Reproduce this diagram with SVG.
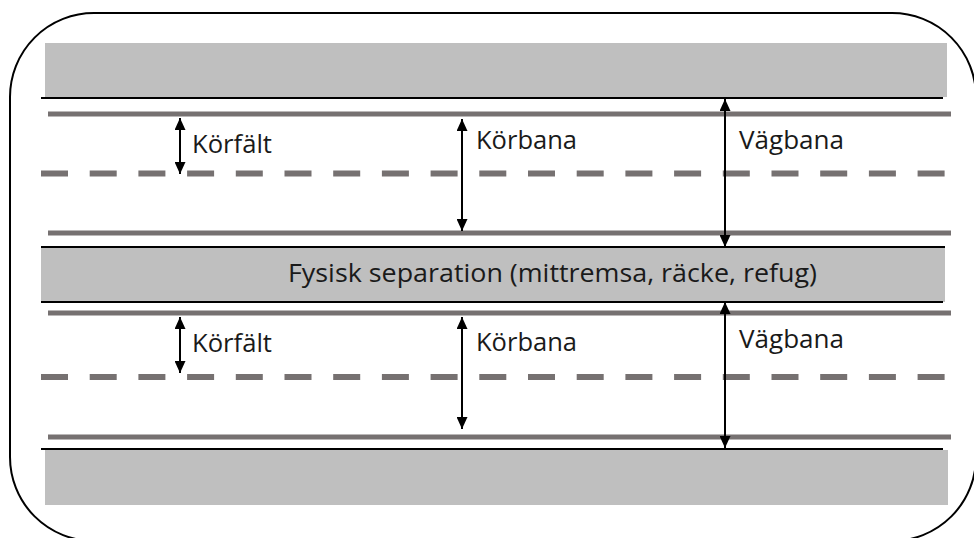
<svg xmlns="http://www.w3.org/2000/svg" width="974" height="538" viewBox="0 0 974 538">
  <style>
    .band { fill: #bfbfbf; }
    .edge { stroke: #000; stroke-width: 2; fill: none; }
    .lane { stroke: #767171; stroke-width: 5; fill: none; }
    .dash { stroke: #767171; stroke-width: 6; fill: none; stroke-dasharray: 27 21.7; }
    .dim { stroke: #000; stroke-width: 2; fill: none; marker-start: url(#ah); marker-end: url(#ah); }
    .lbl { font-family: "Open Sans", "Noto Sans", "DejaVu Sans", sans-serif; font-size: 25px; fill: #1a1a1a; }
  </style>
  <defs>
    <marker id="ah" markerUnits="userSpaceOnUse" markerWidth="12" markerHeight="11" viewBox="0 0 12 11" refX="12" refY="5.5" orient="auto-start-reverse">
      <path d="M0,0 L12,5.5 L0,11 z" fill="#000"/>
    </marker>
  </defs>
  <rect width="974" height="538" fill="#fff"/>

  <g id="frame">
    <rect x="10" y="13" width="966" height="528" rx="84" ry="84" fill="none" stroke="#000" stroke-width="2"/>
  </g>

  <g id="top-verge">
    <rect class="band" x="45" y="43" width="902" height="54"/>
    <line class="edge" x1="41" y1="98" x2="943" y2="98"/>
  </g>

  <g id="upper-carriageway">
    <line class="lane" x1="48" y1="114" x2="951" y2="114"/>
    <line class="dash" x1="41" y1="173.5" x2="945" y2="173.5"/>
    <line class="lane" x1="48" y1="233" x2="951" y2="233"/>
  </g>

  <g id="separation">
    <rect class="band" x="41" y="247" width="904" height="55"/>
    <line class="edge" x1="41" y1="247" x2="945" y2="247"/>
    <line class="edge" x1="41" y1="302" x2="943" y2="302"/>
    <text class="lbl" x="288" y="282" textLength="529" lengthAdjust="spacingAndGlyphs">Fysisk separation (mittremsa, räcke, refug)</text>
  </g>

  <g id="lower-carriageway">
    <line class="lane" x1="48" y1="313" x2="951" y2="313"/>
    <line class="dash" x1="41" y1="377" x2="945" y2="377"/>
    <line class="lane" x1="48" y1="437" x2="951" y2="437"/>
  </g>

  <g id="bottom-verge">
    <line class="edge" x1="41" y1="449" x2="943" y2="449"/>
    <rect class="band" x="45" y="450" width="903" height="55"/>
  </g>

  <g id="connectors">
    <line class="dim" x1="180" y1="118" x2="180" y2="174"/>
    <line class="dim" x1="462" y1="119" x2="462" y2="231"/>
    <line class="dim" x1="725" y1="99" x2="725" y2="247"/>
    <line class="dim" x1="180" y1="317" x2="180" y2="373"/>
    <line class="dim" x1="462" y1="317" x2="462" y2="429"/>
    <line class="dim" x1="725" y1="302" x2="725" y2="448"/>
  </g>

  <g id="labels-upper">
    <text class="lbl" x="192" y="153" textLength="80" lengthAdjust="spacingAndGlyphs">Körfält</text>
    <text class="lbl" x="476" y="149" textLength="101" lengthAdjust="spacingAndGlyphs">Körbana</text>
    <text class="lbl" x="739" y="149" textLength="105" lengthAdjust="spacingAndGlyphs">Vägbana</text>
  </g>

  <g id="labels-lower">
    <text class="lbl" x="192" y="352" textLength="80" lengthAdjust="spacingAndGlyphs">Körfält</text>
    <text class="lbl" x="476" y="351" textLength="101" lengthAdjust="spacingAndGlyphs">Körbana</text>
    <text class="lbl" x="739" y="348" textLength="105" lengthAdjust="spacingAndGlyphs">Vägbana</text>
  </g>
</svg>
